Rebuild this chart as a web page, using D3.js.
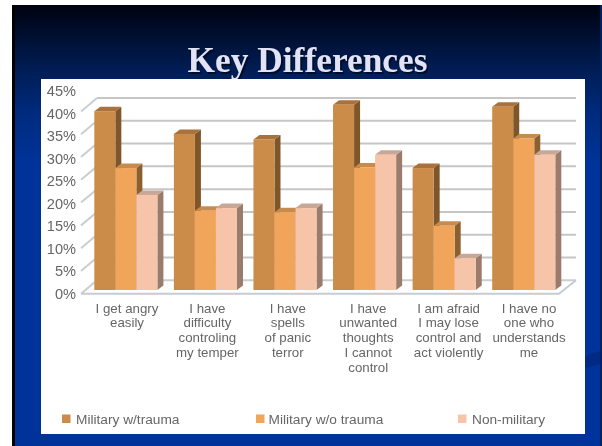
<!DOCTYPE html>
<html>
<head>
<meta charset="utf-8">
<script src="https://cdn.jsdelivr.net/npm/d3@7"></script>
<style>
html,body{margin:0;padding:0;background:#fff;overflow:hidden}
svg{display:block}
</style>
</head>
<body>
<svg id="c" width="602" height="446"></svg>
<script>
const categories = ["anger","temper","panic","thoughts","violence","understood"];
const categoryLines = [
  ["I get angry","easily"],
  ["I have","difficulty","controling","my temper"],
  ["I have","spells","of panic","terror"],
  ["I have","unwanted","thoughts","I cannot","control"],
  ["I am afraid","I may lose","control and","act violently"],
  ["I have no","one who","understands","me"]
];
const seriesNames = ["Military w/trauma","Military w/o trauma","Non-military"];
const militaryTrauma = [39.3,34.3,33.1,40.7,26.8,40.3];
const militaryNoTrauma = [26.8,17.4,17.1,26.9,14.1,33.3];
const nonMilitary = [20.9,18,18,29.7,7,29.7];
const seriesValues = [militaryTrauma,militaryNoTrauma,nonMilitary];
const tickValues = [0,5,10,15,20,25,30,35,40,45];
const gridValues = [0,5,10,15,20,25,30,35,40];
const frontColors = ["#cc8c48","#f0a55a","#f6c4a8"];
const sideColors = ["#7f5429","#8c5f2e","#9a7b6d"];
const topColors = ["#a9713a","#c78c4e","#c9a797"];

const svg = d3.select("#c");
const defs = svg.append("defs");
const grad = defs.append("linearGradient").attr("id","bg").attr("x1",0).attr("x2",0).attr("y1",0).attr("y2",1);
grad.append("stop").attr("offset","0").attr("stop-color","#000210");
grad.append("stop").attr("offset","0.13").attr("stop-color","#001a4d");
grad.append("stop").attr("offset","0.24").attr("stop-color","#002a7c");
grad.append("stop").attr("offset","0.36").attr("stop-color","#003399");
grad.append("stop").attr("offset","1").attr("stop-color","#003399");
const shadow = defs.append("filter").attr("id","soft").attr("x","-5%").attr("y","-20%").attr("width","110%").attr("height","140%");
shadow.append("feGaussianBlur").attr("stdDeviation",0.7);
const soft = defs.append("filter").attr("id","blur").attr("x","-2%").attr("y","-2%").attr("width","104%").attr("height","104%");
soft.append("feGaussianBlur").attr("stdDeviation",0.6);

// slide
svg.append("rect").attr("x",12).attr("y",5).attr("width",590).attr("height",441).attr("fill","url(#bg)");
svg.append("rect").attr("x",12).attr("y",5).attr("width",3).attr("height",441).attr("fill","#000");
svg.append("path").attr("d","M585,356L600,351L600,364L585,368Z").attr("fill","#002c86").attr("filter","url(#soft)");
svg.append("rect").attr("x",600).attr("y",5).attr("width",2).attr("height",441).attr("fill","#00205f");

// title
const titleAttrs = s => s.attr("x",307.5).attr("y",72).attr("text-anchor","middle")
  .attr("font-family","'Liberation Serif',serif").attr("font-weight","bold").attr("font-size",35.4);
svg.append("text").call(titleAttrs).attr("transform","translate(1.5,1.5)").attr("fill","#000a20").attr("filter","url(#soft)").text("Key Differences");
svg.append("text").call(titleAttrs).attr("fill","#e2e3f6").attr("filter","url(#blur)").text("Key Differences");

// white panel
svg.append("rect").attr("x",41).attr("y",79).attr("width",544).attr("height",355).attr("fill","#fff");

const chart = svg.append("g").attr("filter","url(#blur)");

const yBack = d3.scaleLinear().domain([0,40]).range([280.3,98]);
const yFront = d3.scaleLinear().domain([0,40]).range([293.7,111.5]);
const yBar = d3.scaleLinear().domain([0,40]).range([290,108]);
const yLabel = d3.scaleLinear().domain([0,45]).range([293.7,91]);
const x0 = d3.scaleBand().domain(categories).range([94.3,555.3]).paddingInner(0.207).paddingOuter(0);
const x1 = d3.scaleBand().domain(d3.range(3)).range([0,x0.bandwidth()]);
const xLabel = d3.scalePoint().domain(categories).range([127,529]);
const depthX = 6, depthY = 4.5;
const wallLeft = 81, wallBack = 97, backRight = 576, frontRight = 559;

// gridlines on the back wall
chart.append("g").selectAll("line").data(gridValues).join("line")
  .attr("x1",wallBack).attr("x2",backRight).attr("y1",d=>yBack(d)).attr("y2",d=>yBack(d))
  .attr("stroke",d=>d===0?"#c9ced2":"#c6c6c6").attr("stroke-width",2);
chart.append("g").selectAll("line").data(gridValues).join("line")
  .attr("x1",wallLeft).attr("x2",wallBack).attr("y1",d=>yFront(d)).attr("y2",d=>yBack(d))
  .attr("stroke","#c9ced2").attr("stroke-width",2);
// floor
chart.append("path")
  .attr("d",`M${wallLeft},${yFront(0)}L${frontRight},${yFront(0)}L${backRight},${yBack(0)}`)
  .attr("fill","none").attr("stroke","#c5ccd2").attr("stroke-width",2);

// bars
const bars = chart.append("g");
categories.forEach((cat,i)=>{
  const g = bars.append("g").attr("transform",`translate(${x0(cat)},0)`);
  seriesValues.forEach((vals,s)=>{
    const x = x1(s), w = x1.bandwidth(), top = yBar(vals[i]), base = yBar(0);
    g.append("path")
      .attr("d",`M${x+w},${top}L${x+w+depthX},${top-depthY}L${x+w+depthX},${base-depthY}L${x+w},${base}Z`)
      .attr("fill",sideColors[s]);
    g.append("path")
      .attr("d",`M${x},${top}L${x+depthX},${top-depthY}L${x+w+depthX},${top-depthY}L${x+w},${top}Z`)
      .attr("fill",topColors[s]);
    g.append("rect").attr("x",x).attr("y",top).attr("width",w).attr("height",base-top).attr("fill",frontColors[s]);
  });
});

// y axis labels
const axis = chart.append("g").attr("transform","translate(76,0)")
  .call(d3.axisLeft(yLabel).tickValues(tickValues).tickFormat(d=>d+"%").tickSize(0).tickPadding(0));
axis.select(".domain").remove();
axis.selectAll("text").attr("font-family","'Liberation Sans',sans-serif").attr("font-size",14.6).attr("fill","#666");

// category labels
const lab = chart.append("g").attr("font-family","'Liberation Sans',sans-serif").attr("font-size",13.3).attr("fill","#666").attr("text-anchor","middle");
categories.forEach((cat,i)=>{
  lab.selectAll(null).data(categoryLines[i]).join("text")
    .attr("x",xLabel(cat)).attr("y",(d,k)=>312.5+k*14.9).text(d=>d);
});

// legend
const legendSwatchX = [62,256,458];
const legendTextX = [76,268.5,472];
const leg = chart.append("g").attr("font-family","'Liberation Sans',sans-serif").attr("font-size",13.7).attr("fill","#666");
seriesNames.forEach((n,s)=>{
  leg.append("rect").attr("x",legendSwatchX[s]).attr("y",414.5).attr("width",8.5).attr("height",8.5).attr("fill",frontColors[s]);
  leg.append("text").attr("x",legendTextX[s]).attr("y",423.5).text(n);
});
</script>
</body>
</html>
